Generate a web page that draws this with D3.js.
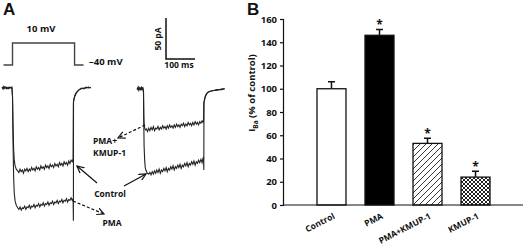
<!DOCTYPE html>
<html>
<head>
<meta charset="utf-8">
<script src="https://cdn.jsdelivr.net/npm/d3@7"></script>
<style>
  body { margin: 0; background: #fff; }
  text { font-family: "Open Sans", "DejaVu Sans", sans-serif; font-weight: 700; fill: #111; }
</style>
</head>
<body>
<svg id="fig" width="524" height="248"></svg>
<script>
// ---- panel B data ----
const groups = ['Control', 'PMA', 'PMA+KMUP-1', 'KMUP-1'];
const means = [100, 146, 53, 24];
const sems = [6, 5, 4.5, 5];
const starred = [false, true, true, true];
const yTicks = [0, 20, 40, 60, 80, 100, 120, 140, 160];

// ---- panel A data (time in ms from step onset, current in pA) ----
const voltageStep = [[-31, -40], [0, -40], [0, 10], [214, 10], [214, -40], [245, -40]];

const leftControl = [[-36,1],[-33,-1],[-30,2],[-27,0],[-24,1],[-20,-1],[-15,1],[-10,0],[-5,1],[-2,0],
  [0,-10],[2,-50],[4,-75],[6,-88],[9,-95],[13,-99],[18,-101],
  [22,-103],[26,-99],[30,-102],[34,-100],[38,-104],[42,-99],[46,-101],[50,-98],[54,-102],[58,-99],
  [62,-101],[66,-97],[70,-100],[74,-98],[78,-101],[82,-96],[86,-99],[90,-97],[94,-100],[98,-95],
  [102,-98],[106,-96],[110,-99],[114,-94],[118,-97],[122,-95],[126,-98],[130,-93],[134,-96],[138,-94],
  [142,-97],[146,-92],[150,-95],[154,-93],[158,-96],[162,-91],[166,-94],[170,-92],[174,-95],[178,-90],
  [182,-93],[186,-91],[190,-94],[194,-89],[198,-92],[202,-88],[206,-90],[209,-86],
  [210,-18],[212,-14],[215,-10],[219,-7],[224,-4],[230,-2],[238,0],[246,-1],[254,1],[262,0],[270,1]];

const leftPMA = [[-36,0],[-33,1],[-30,-1],[-27,1],[-24,0],[-20,1],[-15,-1],[-10,1],[-5,0],[-2,1],
  [0,-10],[2,-70],[4,-110],[6,-128],[9,-138],[13,-143],[18,-146],
  [22,-148],[26,-145],[30,-149],[34,-146],[38,-147],[42,-144],[46,-148],[50,-145],[54,-146],[58,-143],
  [62,-147],[66,-144],[70,-145],[74,-142],[78,-146],[82,-143],[86,-144],[90,-141],[94,-145],[98,-142],
  [102,-143],[106,-140],[110,-144],[114,-141],[118,-142],[122,-139],[126,-143],[130,-140],[134,-141],[138,-138],
  [142,-142],[146,-139],[150,-140],[154,-137],[158,-141],[162,-138],[166,-139],[170,-136],[174,-140],[178,-137],
  [182,-138],[186,-135],[190,-139],[194,-136],[198,-137],[202,-134],[206,-137],[209,-135],
  [210,-162],[210.4,-16],[212,-13],[215,-9],[219,-6],[224,-4],[230,-2],[238,-1],[246,0],[254,0],[262,1],[270,0]];

const rightControl = [[-22,-2],[-19,1],[-16,-3],[-13,0],[-10,-2],[-7,1],[-4,-1],[-2,0],
  [0,-5],[1,-40],[2,-70],[4,-88],[6,-97],[9,-101],[13,-104],[18,-105],
  [22,-103],[26,-106],[30,-102],[34,-105],[38,-101],[42,-104],[46,-100],[50,-103],[54,-99],[58,-104],
  [62,-100],[66,-102],[70,-98],[74,-101],[78,-97],[82,-102],[86,-98],[90,-100],[94,-96],[98,-99],
  [102,-95],[106,-100],[110,-96],[114,-98],[118,-94],[122,-97],[126,-93],[130,-98],[134,-94],[138,-96],
  [142,-92],[146,-95],[150,-91],[154,-96],[158,-92],[162,-94],[166,-90],[170,-93],[174,-89],[178,-94],
  [182,-90],[186,-92],[190,-88],[194,-91],[198,-87],[202,-91],[205,-86],[207,-84],
  [208,-100],[208.5,-18],[211,-14],[214,-10],[218,-7],[224,-5],[232,-4],[242,-3],[252,-2],[262,-2],[272,-1],[280,-1]];

const rightPMAKMUP = [[-22,0],[-19,-2],[-16,1],[-13,-1],[-10,0],[-7,-2],[-4,0],[-2,-1],
  [0,-5],[1,-35],[2,-45],[4,-49],[7,-51],
  [10,-50],[14,-53],[18,-49],[22,-52],[26,-48],[30,-51],[34,-47],[38,-52],[42,-49],[46,-50],
  [50,-47],[54,-51],[58,-48],[62,-50],[66,-46],[70,-49],[74,-47],[78,-50],[82,-46],[86,-49],
  [90,-45],[94,-48],[98,-46],[102,-49],[106,-45],[110,-48],[114,-44],[118,-47],[122,-45],[126,-48],
  [130,-44],[134,-46],[138,-43],[142,-47],[146,-44],[150,-46],[154,-42],[158,-45],[162,-43],[166,-46],
  [170,-42],[174,-45],[178,-41],[182,-44],[186,-42],[190,-45],[194,-41],[198,-43],[202,-40],[205,-42],[207,-40],
  [208,-20],[210,-14],[213,-10],[217,-7],[222,-5],[230,-4],[240,-3],[250,-3],[260,-2],[270,-2],[280,-1]];

const svg = d3.select('#fig');

// ================= panel A =================
const tx = d3.scaleLinear().domain([0, 100]).range([0, 29]);   // 100 ms = 29 px
const ty = d3.scaleLinear().domain([0, -50]).range([88, 129]);  // 50 pA = 41 px
const vy = d3.scaleLinear().domain([-40, 10]).range([65, 43]);

const leftX0 = 12.5, rightX0 = 143.5;

const defs = svg.append('defs');
defs.append('marker')
    .attr('id', 'ah')
    .attr('viewBox', '0 -4 8 8')
    .attr('refX', 7).attr('refY', 0)
    .attr('markerWidth', 8).attr('markerHeight', 8)
    .attr('markerUnits', 'userSpaceOnUse')
    .attr('orient', 'auto')
  .append('path')
    .attr('d', 'M0,-3.5L7,0L0,3.5')
    .attr('fill', 'none')
    .attr('stroke', '#111')
    .attr('stroke-width', 1.2);

svg.append('path')
    .datum(voltageStep)
    .attr('d', d3.line().x(d => leftX0 + tx(d[0])).y(d => vy(d[1])))
    .attr('fill', 'none')
    .attr('stroke', '#444')
    .attr('stroke-width', 1.4);

const traceLine = x0 => d3.line().x(d => x0 + tx(d[0])).y(d => ty(d[1]));

[[leftControl, leftX0], [leftPMA, leftX0], [rightControl, rightX0], [rightPMAKMUP, rightX0]]
  .forEach(([data, x0]) => {
    svg.append('path')
        .datum(data)
        .attr('d', traceLine(x0))
        .attr('fill', 'none')
        .attr('stroke', '#222')
        .attr('stroke-width', 1.1);
  });

// scale bar
const sbX = 166, sbY = 59;
svg.append('path')
    .attr('d', `M${sbX},${sbY - (ty(-50) - ty(0))}V${sbY}H${sbX + tx(100)}`)
    .attr('fill', 'none')
    .attr('stroke', '#111')
    .attr('stroke-width', 1.5);

svg.append('text').attr('x', 3).attr('y', 15).style('font-size', '17px')
    .style('font-family', '"Liberation Sans", Arial, sans-serif').text('A');
svg.append('text').attr('x', 41).attr('y', 32).attr('text-anchor', 'middle').style('font-size', '9.5px').text('10 mV');
svg.append('text').attr('x', 89).attr('y', 65).style('font-size', '9.5px').text('\u201340 mV');
svg.append('text').attr('transform', 'translate(161,39) rotate(-90)').attr('text-anchor', 'middle')
    .style('font-size', '8.5px').text('50 pA');
svg.append('text').attr('x', 179).attr('y', 68).attr('text-anchor', 'middle').style('font-size', '8.5px').text('100 ms');

svg.append('text').attr('x', 93).attr('y', 144).style('font-size', '8.5px').text('PMA+');
svg.append('text').attr('x', 93).attr('y', 156).style('font-size', '8.5px').text('KMUP-1');
svg.append('text').attr('x', 110).attr('y', 197).attr('text-anchor', 'middle').style('font-size', '8.5px').text('Control');
svg.append('text').attr('x', 112).attr('y', 226).attr('text-anchor', 'middle').style('font-size', '8.5px').text('PMA');

const arrows = [
  {from: [145, 125], to: [118, 138], dashed: true},
  {from: [97, 183], to: [77, 166], dashed: false},
  {from: [124, 186], to: [146, 174], dashed: false},
  {from: [73, 201], to: [104, 214], dashed: true}
];
svg.selectAll('line.arrow')
  .data(arrows)
  .join('line')
    .attr('class', 'arrow')
    .attr('x1', d => d.from[0]).attr('y1', d => d.from[1])
    .attr('x2', d => d.to[0]).attr('y2', d => d.to[1])
    .attr('stroke', '#111')
    .attr('stroke-width', 1.2)
    .attr('stroke-dasharray', d => d.dashed ? '3,2' : null)
    .attr('marker-end', 'url(#ah)');

// ================= panel B =================
const y = d3.scaleLinear().domain([0, 160]).range([205, 19]);
const x = d3.scaleBand().domain(groups).range([283, 524]).paddingInner(0.396).paddingOuter(0.708);

const hatch = defs.append('pattern')
    .attr('id', 'hatch').attr('patternUnits', 'userSpaceOnUse')
    .attr('width', 6).attr('height', 6);
hatch.append('rect').attr('width', 6).attr('height', 6).attr('fill', '#fff');
hatch.append('path').attr('d', 'M-1,7L7,-1M-4,4L4,-4M2,10L10,2')
    .attr('stroke', '#222').attr('stroke-width', 0.9);

const cross = defs.append('pattern')
    .attr('id', 'cross').attr('patternUnits', 'userSpaceOnUse')
    .attr('width', 4).attr('height', 4);
cross.append('rect').attr('width', 4).attr('height', 4).attr('fill', '#fff');
cross.append('path').attr('d', 'M0,0L4,4M4,0L0,4')
    .attr('stroke', '#222').attr('stroke-width', 1);

const fills = ['#fff', '#000', 'url(#hatch)', 'url(#cross)'];

const bars = groups.map((g, i) => ({g, v: means[i], e: sems[i], s: starred[i], f: fills[i]}));

// error bars (upper half only)
svg.selectAll('path.err')
  .data(bars)
  .join('path')
    .attr('class', 'err')
    .attr('d', d => {
      const cx = x(d.g) + x.bandwidth() / 2;
      return `M${cx},${y(d.v)}V${y(d.v + d.e)}M${cx - 3.5},${y(d.v + d.e)}H${cx + 3.5}`;
    })
    .attr('stroke', '#111')
    .attr('stroke-width', 1.5)
    .attr('fill', 'none');

svg.selectAll('rect.bar')
  .data(bars)
  .join('rect')
    .attr('class', 'bar')
    .attr('x', d => x(d.g))
    .attr('y', d => y(d.v))
    .attr('width', x.bandwidth())
    .attr('height', d => y(0) - y(d.v))
    .attr('fill', d => d.f)
    .attr('stroke', '#111')
    .attr('stroke-width', 1.3);

svg.selectAll('text.star')
  .data(bars.filter(d => d.s))
  .join('text')
    .attr('class', 'star')
    .attr('x', d => x(d.g) + x.bandwidth() / 2)
    .attr('y', d => y(d.v + d.e) - 0.5)
    .attr('text-anchor', 'middle')
    .style('font-size', '12px')
    .text('*');

const yAxis = svg.append('g')
    .attr('transform', 'translate(283,0)')
    .call(d3.axisLeft(y).tickValues(yTicks).tickSize(3).tickPadding(3));
yAxis.select('.domain').attr('stroke', '#111').attr('stroke-width', 1.2);
yAxis.selectAll('.tick line').attr('stroke', '#111').attr('stroke-width', 1.2);
yAxis.selectAll('.tick text')
    .style('font-family', '"Open Sans", sans-serif').style('font-weight', '700')
    .style('font-size', '9.5px').attr('fill', '#111');

svg.append('line')
    .attr('x1', 283).attr('x2', 523)
    .attr('y1', y(0)).attr('y2', y(0))
    .attr('stroke', '#111').attr('stroke-width', 1.2);

svg.selectAll('text.xlab')
  .data(groups)
  .join('text')
    .attr('class', 'xlab')
    .attr('text-anchor', 'end')
    .attr('transform', d => `translate(${x(d) + x.bandwidth() / 2 + 4},${y(0) + 13}) rotate(-27)`)
    .style('font-size', '8.5px')
    .text(d => d);

const ylab = svg.append('text')
    .attr('transform', 'translate(255,93) rotate(-90)')
    .attr('text-anchor', 'middle')
    .style('font-size', '9.5px');
ylab.append('tspan').text('I');
ylab.append('tspan').attr('dy', 3).style('font-size', '6.5px').text('Ba');
ylab.append('tspan').attr('dy', -3).text(' (% of control)');

svg.append('text').attr('x', 247).attr('y', 15).style('font-size', '17px')
    .style('font-family', '"Liberation Sans", Arial, sans-serif').text('B');
</script>
</body>
</html>
